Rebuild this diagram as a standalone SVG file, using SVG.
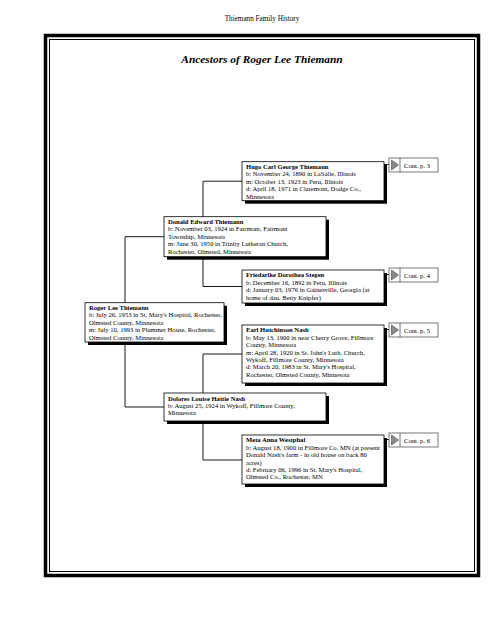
<svg xmlns="http://www.w3.org/2000/svg" width="495" height="640" viewBox="0 0 495 640">
<style>
text{font-family:"Liberation Serif","Times New Roman",serif;fill:#000}
.hd{font-size:7.2px}
.title{font-size:11.4px;font-weight:bold;font-style:italic}
.nm{font-size:6.6px;font-weight:bold}
.tx{font-size:6.6px}
.box{fill:#fff;stroke:#000;stroke-width:0.8}
.sh{fill:#000}
.ln{stroke:#000;stroke-width:0.9;fill:none}
.cb{fill:#fff;stroke:#555;stroke-width:0.8}
.sep{stroke:#555;stroke-width:0.8}
.tri{fill:#8a8a8a;stroke:#444;stroke-width:0.6}
.ct{font-size:6.6px}
</style>
<rect width="495" height="640" fill="#fff"/>
<text class="hd" x="262" y="21" text-anchor="middle">Thiemann Family History</text>
<rect x="45.5" y="35.5" width="433" height="540" fill="none" stroke="#000" stroke-width="3.5"/>
<rect x="49.5" y="39.5" width="425" height="532" fill="none" stroke="#000" stroke-width="1"/>
<text class="title" x="262" y="63" text-anchor="middle">Ancestors of Roger Lee Thiemann</text>

<g id="connectors">
<path class="ln" d="M125,236.7 V407 M125,236.7 H164 M125,407 H164"/>
<path class="ln" d="M203,181.2 V286.5 M203,181.2 H242 M203,286.5 H242"/>
<path class="ln" d="M203,354 V460 M203,354 H242 M203,460 H242"/>
<path class="ln" d="M384,164.5 H389 M384,274.5 H389 M384,329.5 H389 M384,439.5 H389"/>
</g>

<g id="roger">
<rect class="sh" x="88" y="305.7" width="139" height="39.3"/>
<rect class="box" x="85" y="302.7" width="139" height="39.3"/>
<text class="nm" x="89" y="310">Roger Lee Thiemann</text>
<text class="tx" x="89" y="317.4">b: July 26, 1953 in St. Mary's Hospital, Rochester,</text>
<text class="tx" x="89" y="324.8">Olmsted County, Minnesota</text>
<text class="tx" x="89" y="332.2">m: July 10, 1993 in Plummer House, Rochester,</text>
<text class="tx" x="89" y="339.6">Olmsted County, Minnesota</text>
</g>

<g id="donald">
<rect class="sh" x="167" y="219.7" width="162" height="40"/>
<rect class="box" x="164" y="216.7" width="162" height="40"/>
<text class="nm" x="168" y="224">Donald Edward Thiemann</text>
<text class="tx" x="168" y="231.4">b: November 03, 1924 in Fairmont, Fairmont</text>
<text class="tx" x="168" y="238.8">Township, Minnesota</text>
<text class="tx" x="168" y="246.2">m: June 30, 1950 in Trinity Lutheran Church,</text>
<text class="tx" x="168" y="253.6">Rochester, Olmsted, Minnesota</text>
</g>

<g id="dolores">
<rect class="sh" x="167" y="396" width="162" height="28"/>
<rect class="box" x="164" y="393" width="162" height="28"/>
<text class="nm" x="168" y="400.6">Dolores Louise Hattie Nash</text>
<text class="tx" x="168" y="408">b: August 25, 1924 in Wykoff, Fillmore County,</text>
<text class="tx" x="168" y="415.4">Minnesota</text>
</g>

<g id="hugo">
<rect class="sh" x="245" y="164.7" width="142" height="39"/>
<rect class="box" x="242" y="161.7" width="142" height="39"/>
<text class="nm" x="246" y="169">Hugo Carl George Thiemann</text>
<text class="tx" x="246" y="176.4">b: November 24, 1890 in LaSalle, Illinois</text>
<text class="tx" x="246" y="183.8">m: October 13, 1923 in Peru, Illinois</text>
<text class="tx" x="246" y="191.2">d: April 18, 1971 in Claremont, Dodge Co.,</text>
<text class="tx" x="246" y="198.6">Minnesota</text>
</g>

<g id="friedarike">
<rect class="sh" x="245" y="273" width="142" height="33"/>
<rect class="box" x="242" y="270" width="142" height="33"/>
<text class="nm" x="246" y="277.3">Friedarike Dorothea Stegen</text>
<text class="tx" x="246" y="284.7">b: December 16, 1892 in Peru, Illinois</text>
<text class="tx" x="246" y="292.1">d: January 03, 1976 in Gainesville, Georgia (at</text>
<text class="tx" x="246" y="299.5">home of dau. Betty Knipfer)</text>
</g>

<g id="earl">
<rect class="sh" x="245" y="328" width="142" height="58"/>
<rect class="box" x="242" y="325" width="142" height="58"/>
<text class="nm" x="246" y="332.3">Earl Hutchinson Nash</text>
<text class="tx" x="246" y="339.7">b: May 13, 1900 in near Cherry Grove, Fillmore</text>
<text class="tx" x="246" y="347.1">County, Minnesota</text>
<text class="tx" x="246" y="354.5">m: April 28, 1920 in St. John's Luth. Church,</text>
<text class="tx" x="246" y="361.9">Wykoff, Fillmore County, Minnesota</text>
<text class="tx" x="246" y="369.3">d: March 20, 1983 in St. Mary's Hospital,</text>
<text class="tx" x="246" y="376.7">Rochester, Olmsted County, Minnesota</text>
</g>

<g id="meta">
<rect class="sh" x="245" y="438" width="142" height="49"/>
<rect class="box" x="242" y="435" width="142" height="49"/>
<text class="nm" x="246" y="442.3">Meta Anna Westphal</text>
<text class="tx" x="246" y="449.7">b: August 18, 1900 in Fillmore Co. MN (at present</text>
<text class="tx" x="246" y="457.1">Donald Nash's farm - in old house on back 80</text>
<text class="tx" x="246" y="464.5">acres)</text>
<text class="tx" x="246" y="471.9">d: February 06, 1996 in St. Mary's Hospital,</text>
<text class="tx" x="246" y="479.3">Olmsted Co., Rochester, MN</text>
</g>

<g id="cont3">
<rect class="cb" x="389" y="158" width="49" height="14"/>
<line class="sep" x1="400" y1="158" x2="400" y2="172"/>
<path class="tri" d="M391.5,160 L398.5,165 L391.5,170 Z"/>
<text class="ct" x="404" y="167.5">Cont. p. 3</text>
</g>
<g id="cont4">
<rect class="cb" x="389" y="268" width="49" height="14"/>
<line class="sep" x1="400" y1="268" x2="400" y2="282"/>
<path class="tri" d="M391.5,270 L398.5,275 L391.5,280 Z"/>
<text class="ct" x="404" y="277.5">Cont. p. 4</text>
</g>
<g id="cont5">
<rect class="cb" x="389" y="323" width="49" height="14"/>
<line class="sep" x1="400" y1="323" x2="400" y2="337"/>
<path class="tri" d="M391.5,325 L398.5,330 L391.5,335 Z"/>
<text class="ct" x="404" y="332.5">Cont. p. 5</text>
</g>
<g id="cont6">
<rect class="cb" x="389" y="433" width="49" height="14"/>
<line class="sep" x1="400" y1="433" x2="400" y2="447"/>
<path class="tri" d="M391.5,435 L398.5,440 L391.5,445 Z"/>
<text class="ct" x="404" y="442.5">Cont. p. 6</text>
</g>
</svg>
